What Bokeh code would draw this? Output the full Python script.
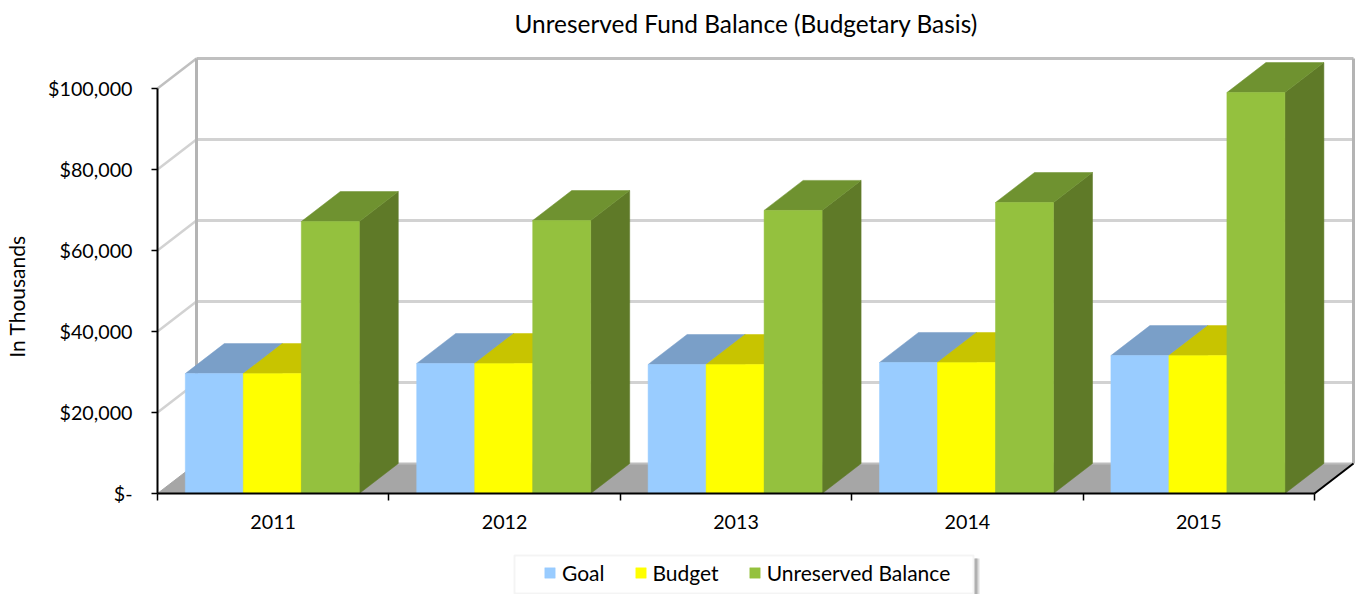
from bokeh.plotting import figure
from bokeh.embed import file_html
from bokeh.resources import INLINE
from bokeh.models import Range1d, FixedTicker, Legend, LegendItem, Label, BoxAnnotation, Title

years = ["2011", "2012", "2013", "2014", "2015"]
goal = [29600, 32100, 31850, 32350, 34050]
budget = [29600, 32100, 31850, 32350, 34050]
unreserved = [67150, 67400, 69900, 71850, 99000]
y_ticks = [0, 20000, 40000, 60000, 80000, 100000]
y_labels = ["$-", "$20,000", "$40,000", "$60,000", "$80,000", "$100,000"]

FONT = "Lato"
FS = "19.7px"
W, H = 1355, 594
X0, Y0, TOP = 157, 493, 42          # pixel of x=0, pixel of y=0, top of the frame
PX_X = 231.4                        # pixels per category
PX_Y = 4.05 / 1000                  # pixels per value unit
DX = 39 / PX_X                      # depth of a box
DY = 30 / PX_Y
BW = 58 / PX_X
OFF = 27.8 / PX_X


def sx(px):
    return (px - X0) / PX_X


def sy(px):
    return (Y0 - px) / PX_Y


p = figure(width=W, height=H, output_backend="svg", toolbar_location=None,
           x_range=Range1d(sx(0), sx(W)), y_range=Range1d(sy(H), sy(TOP)),
           min_border_left=0, min_border_right=0, min_border_top=TOP, min_border_bottom=0,
           background_fill_color="white", border_fill_color="white", outline_line_color=None)
p.grid.visible = False

# --- Axes
ya = p.yaxis[0]
ya.fixed_location = 0
ya.ticker = FixedTicker(ticks=y_ticks)
ya.major_label_overrides = dict(zip(y_ticks, y_labels))
ya.bounds = (0, 100000)
ya.axis_line_color = "#000000"
ya.axis_line_width = 2
ya.major_tick_in = 0
ya.major_tick_out = 6
ya.major_tick_line_color = "#000000"
ya.major_tick_line_width = 1.5
ya.minor_tick_line_color = None
ya.major_label_standoff = 19
ya.major_label_text_font = FONT
ya.major_label_text_font_size = FS
ya.major_label_text_color = "#000000"

centers = [i + 0.5 for i in range(len(years))]
xa = p.xaxis[0]
xa.fixed_location = 0
xa.ticker = FixedTicker(ticks=centers, minor_ticks=list(range(len(years) + 1)))
xa.major_label_overrides = dict(zip(centers, years))
xa.bounds = (0, 5)
xa.axis_line_color = "#000000"
xa.axis_line_width = 2
xa.major_tick_line_color = None
xa.major_tick_in = 0
xa.major_tick_out = 0
xa.minor_tick_in = 0
xa.minor_tick_out = 7
xa.minor_tick_line_color = "#000000"
xa.minor_tick_line_width = 1.5
xa.major_label_standoff = 14
xa.major_label_text_font = FONT
xa.major_label_text_font_size = FS
xa.major_label_text_color = "#000000"

# --- Back wall, side wall and floor
p.patch([0, DX, 5 + DX, 5], [0, DY, DY, 0], fill_color="#a6a6a6", line_color="#a6a6a6")
for t in y_ticks[1:]:
    colour = "#c0c0c0" if t == 100000 else "#d2d2d2"
    p.line([DX, 5 + DX], [t + DY, t + DY], line_color=colour, line_width=3)
    p.line([0, DX], [t, t + DY], line_color=colour, line_width=2.5)
p.line([DX, DX], [DY, 100000 + DY], line_color="#b4b4b4", line_width=3)
p.line([5 + DX, 5 + DX], [DY, 100000 + DY], line_color="#b4b4b4", line_width=3)
p.line([DX, 5 + DX], [DY, DY], line_color="#bdbdbd", line_width=2)
p.line([5, 5 + DX], [0, DY], line_color="#000000", line_width=2)


# --- Boxes
def box(vals, slot, front, top, side):
    lefts = [i + OFF + slot * BW for i in range(len(vals))]
    p.patches([[a + BW, a + BW + DX, a + BW + DX, a + BW] for a in lefts],
              [[0, DY, v + DY, v] for v in vals],
              fill_color=side, line_color=side, line_width=0.5)
    p.patches([[a, a + DX, a + BW + DX, a + BW] for a in lefts],
              [[v, v + DY, v + DY, v] for v in vals],
              fill_color=top, line_color=top, line_width=0.5)
    return p.patches([[a, a, a + BW, a + BW] for a in lefts],
                     [[0, v, v, 0] for v in vals],
                     fill_color=front, line_color=front, line_width=0.5)


r_goal = box(goal, 0, "#99ccff", "#7a9fc8", "#6f94b8")
r_budget = box(budget, 1, "#ffff00", "#c8c400", "#a8a400")
r_unres = box(unreserved, 2, "#94c13e", "#6f9230", "#5f7a28")

# --- Title, axis label
p.title = Title(text="Unreserved Fund Balance (Budgetary Basis)", align="left", offset=514,
                text_font=FONT, text_font_size="24.4px", text_font_style="normal", text_color="#000000",
                standoff=9)
p.add_layout(Label(x=sx(16), y=sy(296), text="In Thousands", angle=90, angle_units="deg",
                   text_align="center", text_baseline="middle", text_font=FONT,
                   text_font_size="21px", text_color="#000000"))

# --- Legend panel (shadow, box) and legend
p.add_layout(BoxAnnotation(left=sx(974), right=sx(979), bottom=sy(H), top=sy(558),
                           fill_color="#dcdcdc", fill_alpha=1, line_color=None))
p.add_layout(BoxAnnotation(left=sx(974), right=sx(977), bottom=sy(H), top=sy(558),
                           fill_color="#b0b0b0", fill_alpha=1, line_color=None))
p.add_layout(BoxAnnotation(left=sx(514), right=sx(973), bottom=sy(593), top=sy(555),
                           fill_color="white", fill_alpha=1, line_color="#d9d9d9", line_width=2))
legend = Legend(items=[LegendItem(label="Goal", renderers=[r_goal]),
                       LegendItem(label="Budget", renderers=[r_budget]),
                       LegendItem(label="Unreserved Balance", renderers=[r_unres])],
                orientation="horizontal", location=(543, 9), glyph_width=13, glyph_height=13,
                label_text_font=FONT, label_text_font_size="21px", label_text_color="#000000",
                border_line_color=None, background_fill_alpha=0,
                padding=8, margin=0, spacing=29, label_standoff=6)
p.add_layout(legend)

open("out.html", "w").write(file_html(p, INLINE))
